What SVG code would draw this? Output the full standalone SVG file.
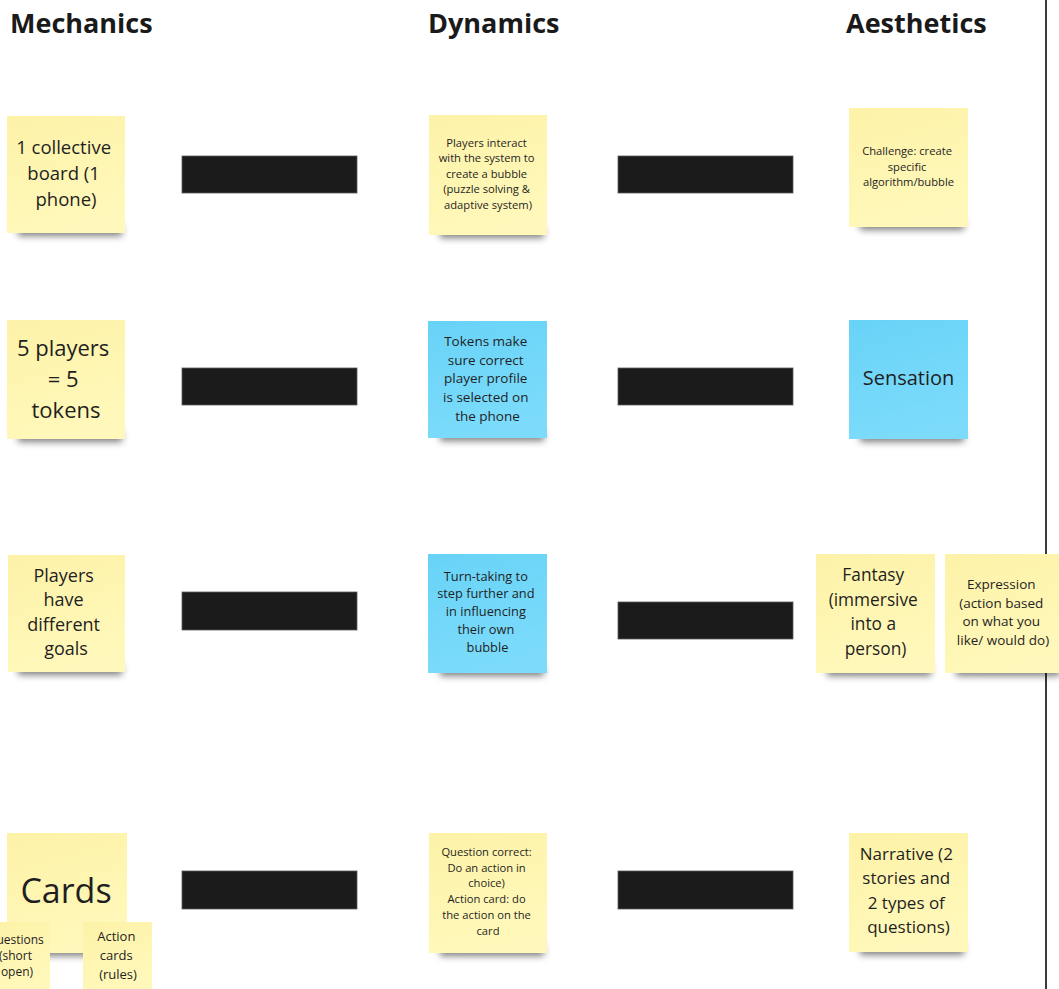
<svg xmlns="http://www.w3.org/2000/svg" width="1059" height="989" viewBox="0 0 1059 989">
  <defs>
    <linearGradient id="yellowFill" x1="0" y1="0" x2="0.3" y2="1">
      <stop offset="0" stop-color="#fdf2a8"/>
      <stop offset="1" stop-color="#fff8ba"/>
    </linearGradient>
    <linearGradient id="blueFill" x1="0" y1="0" x2="0.3" y2="1">
      <stop offset="0" stop-color="#68d3f7"/>
      <stop offset="1" stop-color="#7cdbfb"/>
    </linearGradient>
    <filter id="noteShadow" x="-20%" y="-200%" width="140%" height="500%">
      <feGaussianBlur stdDeviation="3.5"/>
    </filter>
    <style>
      .head { font-family: "Open Sans", "Liberation Sans", sans-serif; font-weight: 700; font-size: 27px; fill: #1a1a1a; }
      .txt { font-family: "Open Sans", "Liberation Sans", sans-serif; fill: #1f1f1f; text-anchor: middle; }
      .yellow { fill: url(#yellowFill); }
      .blue { fill: url(#blueFill); }
      .shadow { fill: #000; opacity: 0.5; filter: url(#noteShadow); }
      .bar { fill: #1b1b1b; stroke: #5a5a5a; stroke-width: 0.8; }
    </style>
  </defs>

  <rect width="1059" height="989" fill="#ffffff"/>

  <!-- column divider -->
  <line x1="1046" y1="0" x2="1046" y2="989" stroke="#3a3a3a" stroke-width="2"/>

  <!-- column headings -->
  <g id="headings">
    <text class="head" x="10" y="33">Mechanics</text>
    <text class="head" x="428" y="33">Dynamics</text>
    <text class="head" x="846" y="33">Aesthetics</text>
  </g>

  <!-- bars linking the columns -->
  <g id="links">
    <rect class="bar" x="182" y="156" width="175" height="37"/>
    <rect class="bar" x="618" y="156" width="175" height="37"/>
    <rect class="bar" x="182" y="368" width="175" height="37"/>
    <rect class="bar" x="618" y="368" width="175" height="37"/>
    <rect class="bar" x="182" y="592" width="175" height="38"/>
    <rect class="bar" x="618" y="602" width="175" height="37"/>
    <rect class="bar" x="182" y="871" width="175" height="38"/>
    <rect class="bar" x="618" y="871" width="175" height="38"/>
  </g>

  <!-- Mechanics -->
  <g id="mech-board">
    <rect class="shadow" x="18" y="225" width="104" height="11"/>
    <rect class="yellow" x="7" y="116" width="118" height="117"/>
    <text class="txt" font-size="18.5">
      <tspan x="66" y="154">1 collective</tspan>
      <tspan x="66" y="180">board (1</tspan>
      <tspan x="66" y="206">phone)</tspan>
    </text>
  </g>

  <g id="mech-players">
    <rect class="shadow" x="18" y="431" width="104" height="11"/>
    <rect class="yellow" x="7" y="320" width="118" height="119"/>
    <text class="txt" font-size="22">
      <tspan x="66" y="356">5 players</tspan>
      <tspan x="66" y="387">= 5</tspan>
      <tspan x="66" y="418">tokens</tspan>
    </text>
  </g>

  <g id="mech-goals">
    <rect class="shadow" x="18" y="664" width="104" height="11"/>
    <rect class="yellow" x="8" y="555" width="117" height="117"/>
    <text class="txt" font-size="18">
      <tspan x="66" y="581.5">Players</tspan>
      <tspan x="66" y="606">have</tspan>
      <tspan x="66" y="630.5">different</tspan>
      <tspan x="66" y="655">goals</tspan>
    </text>
  </g>

  <g id="mech-cards">
    <rect class="shadow" x="18" y="945" width="104" height="11"/>
    <rect class="yellow" x="7" y="833" width="120" height="120"/>
    <text class="txt" font-size="34" x="66" y="903">Cards</text>
  </g>

  <g id="mech-questions">
    <rect class="yellow" x="-14" y="922" width="64" height="70"/>
    <text class="txt" font-size="12">
      <tspan x="17" y="944">Questions</tspan>
      <tspan x="17" y="960">(short</tspan>
      <tspan x="17" y="975.5">open)</tspan>
    </text>
  </g>

  <g id="mech-actions">
    <rect class="yellow" x="83" y="922" width="69" height="70"/>
    <text class="txt" font-size="13">
      <tspan x="118" y="941">Action</tspan>
      <tspan x="118" y="959.5">cards</tspan>
      <tspan x="118" y="978.5">(rules)</tspan>
    </text>
  </g>

  <!-- Dynamics -->
  <g id="dyn-bubble">
    <rect class="shadow" x="440" y="227" width="104" height="11"/>
    <rect class="yellow" x="429" y="115" width="118" height="120"/>
    <text class="txt" font-size="11.2">
      <tspan x="488" y="146.5">Players interact</tspan>
      <tspan x="488" y="162.2">with the system to</tspan>
      <tspan x="488" y="177.8">create a bubble</tspan>
      <tspan x="488" y="193.4">(puzzle solving &amp;</tspan>
      <tspan x="488" y="209">adaptive system)</tspan>
    </text>
  </g>

  <g id="dyn-tokens">
    <rect class="shadow" x="440" y="430" width="104" height="11"/>
    <rect class="blue" x="428" y="321" width="119" height="117"/>
    <text class="txt" font-size="13.5">
      <tspan x="487.5" y="346">Tokens make</tspan>
      <tspan x="487.5" y="364.7">sure correct</tspan>
      <tspan x="487.5" y="383.4">player profile</tspan>
      <tspan x="487.5" y="402.1">is selected on</tspan>
      <tspan x="487.5" y="420.8">the phone</tspan>
    </text>
  </g>

  <g id="dyn-turns">
    <rect class="shadow" x="440" y="665" width="104" height="11"/>
    <rect class="blue" x="428" y="554" width="119" height="119"/>
    <text class="txt" font-size="12.8">
      <tspan x="487.5" y="580.7">Turn-taking to</tspan>
      <tspan x="487.5" y="598.4">step further and</tspan>
      <tspan x="487.5" y="616.1">in influencing</tspan>
      <tspan x="487.5" y="633.8">their own</tspan>
      <tspan x="487.5" y="651.5">bubble</tspan>
    </text>
  </g>

  <g id="dyn-actions">
    <rect class="shadow" x="440" y="945" width="104" height="11"/>
    <rect class="yellow" x="429" y="833" width="118" height="120"/>
    <text class="txt" font-size="11.2">
      <tspan x="488" y="856">Question correct:</tspan>
      <tspan x="488" y="871.7">Do an action in</tspan>
      <tspan x="488" y="887.4">choice)</tspan>
      <tspan x="488" y="903.1">Action card: do</tspan>
      <tspan x="488" y="918.8">the action on the</tspan>
      <tspan x="488" y="934.5">card</tspan>
    </text>
  </g>

  <!-- Aesthetics -->
  <g id="aes-challenge">
    <rect class="shadow" x="860" y="219" width="104" height="11"/>
    <rect class="yellow" x="849" y="108" width="119" height="119"/>
    <text class="txt" font-size="11.2">
      <tspan x="908.5" y="155">Challenge: create</tspan>
      <tspan x="908.5" y="170.5">specific</tspan>
      <tspan x="908.5" y="186">algorithm/bubble</tspan>
    </text>
  </g>

  <g id="aes-sensation">
    <rect class="shadow" x="860" y="431" width="104" height="11"/>
    <rect class="blue" x="849" y="320" width="119" height="119"/>
    <text class="txt" font-size="20" x="908.5" y="385">Sensation</text>
  </g>

  <g id="aes-fantasy">
    <rect class="shadow" x="827" y="665" width="104" height="11"/>
    <rect class="yellow" x="816" y="554" width="119" height="119"/>
    <text class="txt" font-size="17.3">
      <tspan x="875.5" y="581">Fantasy</tspan>
      <tspan x="875.5" y="605.5">(immersive</tspan>
      <tspan x="875.5" y="630">into a</tspan>
      <tspan x="875.5" y="654.5">person)</tspan>
    </text>
  </g>

  <g id="aes-expression">
    <rect class="shadow" x="956" y="665" width="104" height="11"/>
    <rect class="yellow" x="945" y="554" width="119" height="119"/>
    <text class="txt" font-size="13.5">
      <tspan x="1003" y="589.3">Expression</tspan>
      <tspan x="1003" y="607.8">(action based</tspan>
      <tspan x="1003" y="626.3">on what you</tspan>
      <tspan x="1003" y="644.8">like/ would do)</tspan>
    </text>
  </g>

  <g id="aes-narrative">
    <rect class="shadow" x="860" y="944" width="104" height="11"/>
    <rect class="yellow" x="849" y="833" width="119" height="119"/>
    <text class="txt" font-size="17">
      <tspan x="908.5" y="860">Narrative (2</tspan>
      <tspan x="908.5" y="884.3">stories and</tspan>
      <tspan x="908.5" y="908.6">2 types of</tspan>
      <tspan x="908.5" y="932.9">questions)</tspan>
    </text>
  </g>
</svg>
